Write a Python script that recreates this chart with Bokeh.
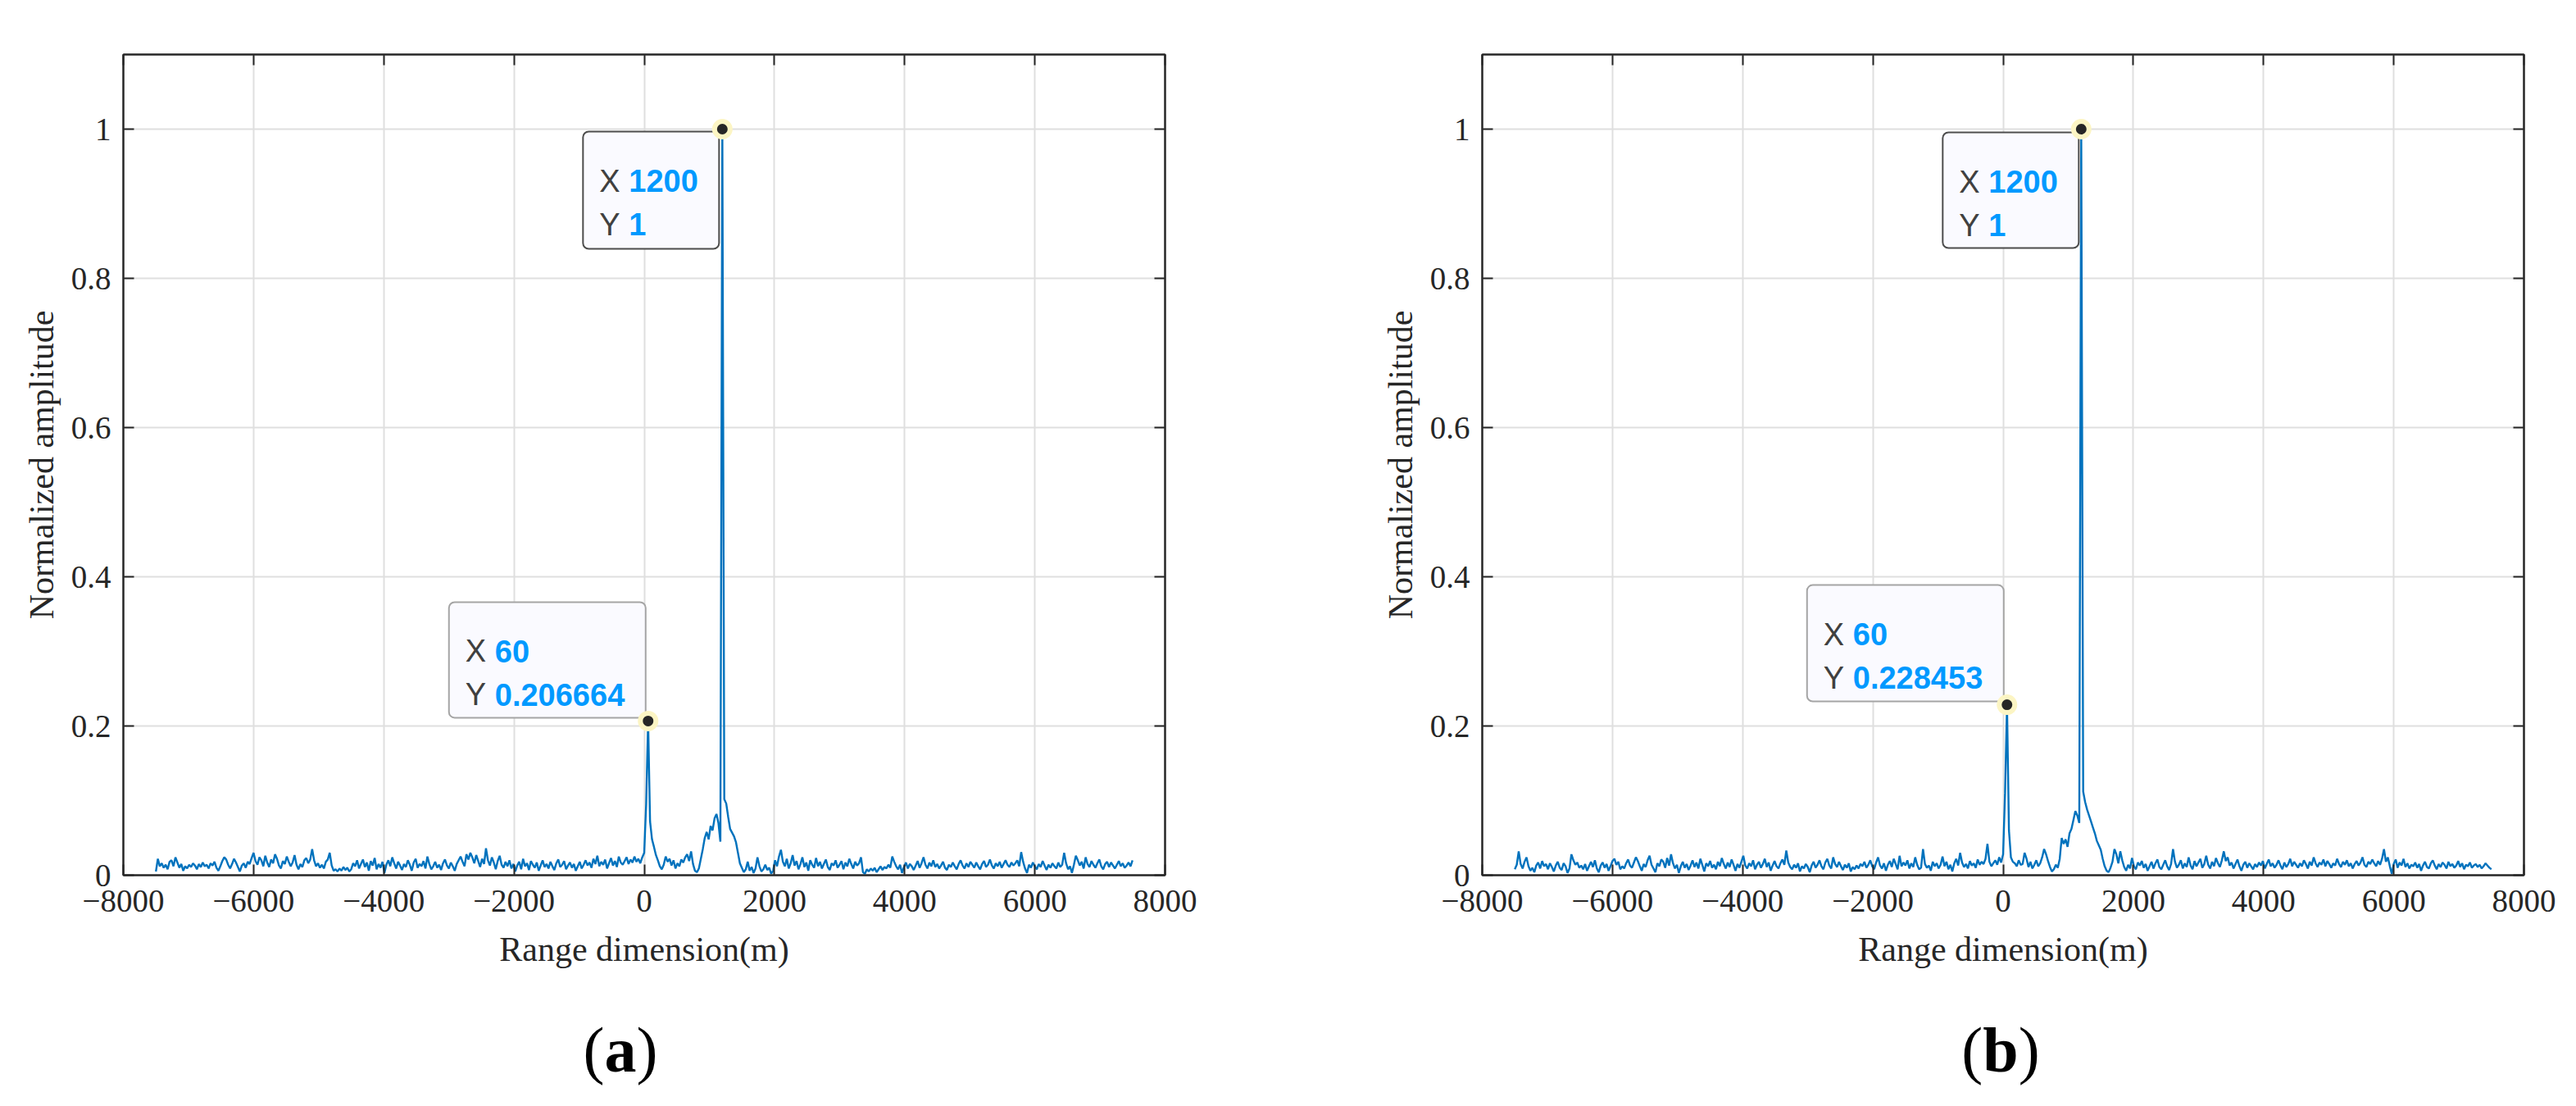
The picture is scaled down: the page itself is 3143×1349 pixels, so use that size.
import numpy as np
from bokeh.plotting import figure
from bokeh.models import Range1d, FixedTicker, LinearAxis, BoxAnnotation, Label, Div
from bokeh.layouts import row, column
from bokeh.embed import file_html
from bokeh.resources import INLINE

# ---------------- data ----------------
# range samples: start and spacing (m)
X_START = -7500
X_STEP = 30

# normalized amplitude, in thousandths, panel (a)
amp_a_milli = [
    5, 22, 12, 16, 10, 14, 8, 18, 20, 12, 24, 17, 10, 15, 6, 12, 9, 14, 11, 16,
    13, 8, 15, 11, 17, 12, 14, 9, 16, 13, 18, 10, 6, 12, 19, 24, 21, 14, 9, 15,
    22, 17, 11, 5, 13, 16, 10, 18, 15, 23, 30, 19, 14, 24, 20, 12, 26, 17, 11, 21,
    16, 28, 22, 13, 9, 19, 15, 25, 18, 12, 17, 27, 14, 8, 15, 11, 20, 23, 16, 21,
    35, 20, 12, 16, 10, 14, 9, 18, 21, 30, 13, 6, 8, 5, 9, 6, 11, 7, 10, 5,
    8, 16, 12, 20, 9, 15, 21, 11, 17, 6, 19, 13, 23, 8, 15, 10, 18, 3, 14, 20,
    12, 24, 16, 9, 18, 13, 7, 15, 11, 20, 14, 6, 17, 22, 10, 15, 12, 19, 9, 25,
    15, 8, 12, 18, 10, 14, 7, 16, 21, 13, 9, 17, 12, 6, 15, 20, 25, 18, 12, 28,
    21, 30, 24, 16, 27, 19, 11, 22, 15, 36, 20, 13, 24, 17, 8, 19, 26, 14, 10, 18,
    12, 20, 9, 15, 5, 13, 18, 8, 22, 12, 16, 7, 19, 14, 10, 17, 6, 13, 20, 11,
    15, 9, 18, 12, 7, 16, 21, 11, 14, 19, 8, 13, 17, 10, 15, 6, 12, 18, 9, 14,
    20, 13, 17, 10, 22, 15, 26, 12, 18, 14, 21, 9, 16, 23, 13, 19, 11, 25, 17, 14,
    19, 24, 15, 21, 17, 25, 18, 22, 16, 24, 30, 95, 206.664, 72, 48, 38, 27, 20, 12, 8,
    14, 25, 18, 22, 13, 20, 9, 16, 12, 21, 17, 24, 28, 19, 32, 15, 6, 4, 9, 22,
    35, 50, 58, 48, 66, 60, 76, 82, 70, 45, 1000, 102, 96, 78, 62, 57, 52, 44, 30, 16,
    10, 4, 8, 18, 6, 11, 3, 9, 24, 12, 5, 8, 14, 7, 10, 2, 6, 20, 12, 25,
    34, 18, 12, 22, 9, 16, 27, 13, 19, 8, 15, 24, 11, 17, 6, 20, 14, 10, 23, 12,
    18, 9, 15, 21, 11, 7, 16, 13, 20, 10, 14, 19, 8, 17, 12, 22, 15, 9, 18, 13,
    16, 24, 4, 2, 8, 5, 9, 6, 10, 4, 8, 12, 7, 11, 9, 14, 10, 25, 18, 12,
    8, 14, 3, 11, 17, 9, 15, 12, 7, 13, 19, 10, 16, 24, 14, 9, 17, 12, 20, 11,
    15, 9, 13, 18, 10, 7, 14, 11, 17, 12, 8, 15, 20, 13, 9, 16, 11, 18, 14, 10,
    17, 12, 8, 15, 19, 11, 14, 21, 13, 9, 16, 12, 18, 10, 15, 20, 14, 11, 17, 13,
    16, 20, 12, 31, 18, 9, 3, 14, 10, 17, 12, 8, 15, 11, 19, 13, 7, 14, 10, 16,
    12, 9, 17, 11, 14, 30, 16, 8, 12, 3, 14, 26, 20, 13, 18, 9, 24, 15, 11, 19,
    14, 10, 16, 21, 12, 8, 15, 18, 11, 17, 13, 9, 14, 19, 12, 16, 10, 13, 17, 12,
    20,
]

# normalized amplitude, in thousandths, panel (b)
amp_b_milli = [
    8, 14, 32, 15, 9, 18, 24, 12, 6, 10, 4, 13, 17, 9, 19, 12, 15, 8, 16, 11,
    5, 13, 18, 10, 7, 16, 12, 3, 9, 28, 20, 14, 17, 10, 13, 8, 15, 6, 12, 18,
    11, 20, 9, 4, 13, 17, 10, 15, 6, 12, 19, 22, 14, 18, 8, 12, 9, 16, 21, 13,
    10, 17, 24, 19, 12, 6, 15, 11, 20, 26, 14, 9, 4, 16, 12, 21, 18, 10, 23, 13,
    28, 16, 9, 14, 3, 12, 18, 10, 15, 7, 13, 20, 11, 17, 9, 22, 14, 5, 16, 12,
    19, 10, 14, 8, 18, 12, 23, 15, 9, 17, 11, 21, 14, 6, 15, 10, 18, 26, 13, 9,
    16, 12, 20, 8, 14, 18, 10, 15, 22, 11, 17, 6, 13, 19, 12, 9, 16, 21, 14, 33,
    17, 11, 8, 14, 10, 16, 5, 12, 9, 15, 11, 4, 13, 18, 10, 14, 20, 12, 8, 17,
    22, 13, 9, 24, 15, 11, 18, 12, 7, 14, 10, 16, 5, 11, 8, 13, 9, 15, 12, 18,
    10, 14, 20, 12, 8, 17, 24, 13, 9, 16, 6, 14, 19, 11, 22, 15, 8, 26, 12, 17,
    13, 20, 9, 16, 11, 24, 14, 8, 10, 35, 15, 10, 13, 6, 18, 12, 16, 9, 14, 25,
    12, 18, 8, 14, 5, 16, 22, 13, 30, 17, 11, 15, 9, 19, 13, 16, 10, 21, 14, 18,
    15, 22, 42, 18, 12, 16, 20, 14, 24, 17, 28, 110, 228.453, 60, 24, 18, 16, 12, 20, 14,
    15, 30, 22, 11, 18, 9, 14, 20, 12, 16, 24, 35, 28, 19, 11, 5, 8, 14, 10, 22,
    50, 42, 48, 38, 56, 62, 74, 86, 80, 70, 1000, 112, 98, 88, 80, 72, 64, 56, 46, 40,
    34, 22, 12, 6, 4, 10, 18, 35, 28, 16, 32, 20, 11, 6, 14, 9, 23, 12, 8, 17,
    13, 19, 10, 15, 6, 12, 18, 9, 16, 21, 11, 8, 14, 20, 12, 7, 15, 35, 18, 10,
    14, 20, 9, 16, 11, 24, 13, 8, 19, 12, 17, 22, 10, 15, 26, 14, 9, 18, 12, 23,
    16, 11, 20, 32, 19, 24, 13, 17, 9, 15, 21, 12, 6, 14, 18, 10, 16, 12, 8, 15,
    11, 17, 13, 19, 9, 15, 21, 12, 16, 10, 14, 20, 13, 8, 17, 11, 15, 22, 12, 18,
    14, 10, 16, 12, 20, 15, 9, 18, 13, 24, 16, 11, 17, 14, 21, 12, 19, 15, 10, 16,
    13, 22, 15, 11, 18, 14, 20, 12, 16, 9, 15, 19, 13, 17, 24, 14, 11, 18, 15, 21,
    16, 12, 19, 14, 22, 35, 18, 24, 12, 2, 15, 21, 10, 17, 13, 22, 11, 16, 9, 14,
    12, 17, 10, 15, 6, 13, 18, 11, 9, 16, 20, 13, 8, 15, 11, 17, 14, 9, 18, 12,
    15, 10, 13, 19, 11, 16, 8, 14, 12, 17, 10, 13, 15, 11, 14, 9, 12, 16, 13, 10,
    8,
]

x_ticks = [-8000, -6000, -4000, -2000, 0, 2000, 4000, 6000, 8000]
x_tick_labels = ["\u22128000", "\u22126000", "\u22124000", "\u22122000", "0",
                 "2000", "4000", "6000", "8000"]
y_ticks = [0, 0.2, 0.4, 0.6, 0.8, 1]
y_tick_labels = ["0", "0.2", "0.4", "0.6", "0.8", "1"]

x_label = "Range dimension(m)"
y_label = "Normalized amplitude"

# data tips: x, y, shown x text, shown y text
tips_a = [(60, 0.206664, "60", "0.206664"), (1200, 1.0, "1200", "1")]
tips_b = [(60, 0.228453, "60", "0.228453"), (1200, 1.0, "1200", "1")]

# ---------------- styling / layout ----------------
FRAME_W, FRAME_H = 1271, 1001
X_MIN, X_MAX = -8000, 8000
Y_MIN, Y_MAX = 0, 1.1
KX = (X_MAX - X_MIN) / FRAME_W   # data units per screen px
KY = (Y_MAX - Y_MIN) / FRAME_H

AX_COLOR = "#262626"
GRID_COLOR = "#DFDFDF"
LINE_COLOR = "#0072BD"
SERIF = "Liberation Serif"
SANS = "Liberation Sans"

# box offsets relative to the tip point, in px: left, right, top, bottom (screen-down positive)
box_offsets_a = [(-243, -3, -145, -4), (-170, -4, 3, 146)]
box_offsets_b = [(-244, -4, -146, -4), (-169, -3, 4, 145)]
box_edge_colors = ["#A5A5A5", "#4D4D4D"]


def style_axis(ax, label_size="39px"):
    ax.axis_line_color = AX_COLOR
    ax.axis_line_width = 2
    ax.major_tick_in = 13
    ax.major_tick_out = 0
    ax.major_tick_line_color = AX_COLOR
    ax.major_tick_line_width = 2
    ax.minor_tick_line_color = None
    ax.major_label_text_font = SERIF
    ax.major_label_text_font_size = label_size
    ax.major_label_text_color = AX_COLOR
    ax.axis_label_text_font = SERIF
    ax.axis_label_text_font_size = "42px"
    ax.axis_label_text_font_style = "normal"
    ax.axis_label_text_color = AX_COLOR


def make_panel(amp_milli, tips, offsets, border_left, border_right):
    amp = np.array(amp_milli, dtype=float) / 1000.0
    x = X_START + X_STEP * np.arange(len(amp))

    p = figure(frame_width=FRAME_W, frame_height=FRAME_H,
               x_range=Range1d(X_MIN, X_MAX), y_range=Range1d(Y_MIN, Y_MAX),
               output_backend="svg", toolbar_location=None,
               min_border_left=border_left, min_border_right=border_right,
               min_border_top=66, min_border_bottom=125)
    p.background_fill_color = "white"
    p.border_fill_color = "white"
    p.outline_line_color = AX_COLOR
    p.outline_line_width = 2

    xt = FixedTicker(ticks=x_ticks)
    yt = FixedTicker(ticks=y_ticks)
    p.xaxis.ticker = xt
    p.yaxis.ticker = yt
    p.xaxis.major_label_overrides = {t: s for t, s in zip(x_ticks, x_tick_labels)}
    p.yaxis.major_label_overrides = {t: s for t, s in zip(y_ticks, y_tick_labels)}
    p.xaxis.axis_label = x_label
    p.yaxis.axis_label = y_label
    style_axis(p.xaxis[0])
    style_axis(p.yaxis[0])
    p.xaxis.major_label_standoff = 18
    p.xaxis.axis_label_standoff = 20
    p.yaxis.major_label_standoff = 15
    p.yaxis.axis_label_standoff = 10

    # mirrored tick marks on top and right (box on)
    top_ax = LinearAxis(ticker=FixedTicker(ticks=x_ticks),
                        major_label_overrides={t: "" for t in x_ticks})
    right_ax = LinearAxis(ticker=FixedTicker(ticks=y_ticks),
                          major_label_overrides={t: "" for t in y_ticks})
    for ax in (top_ax, right_ax):
        style_axis(ax, label_size="0px")
        ax.major_label_standoff = 0
    p.add_layout(top_ax, "above")
    p.add_layout(right_ax, "right")

    p.xgrid.ticker = xt
    p.ygrid.ticker = yt
    for g in (p.xgrid, p.ygrid):
        g.grid_line_color = GRID_COLOR
        g.grid_line_width = 2

    p.line(x, amp, line_color=LINE_COLOR, line_width=2.4)

    # data tips
    for (tx, ty, sx, sy), (l, r, t, b), edge in zip(tips, offsets, box_edge_colors):
        left, right = tx + l * KX, tx + r * KX
        top, bottom = ty - t * KY, ty - b * KY
        p.add_layout(BoxAnnotation(left=left, right=right, top=top, bottom=bottom,
                                   fill_color="#FAFAFF", fill_alpha=1.0,
                                   line_color=edge, line_alpha=1.0, line_width=2,
                                   border_radius=7))
        for k, (name, val) in enumerate((("X", sx), ("Y", sy))):
            base_y = ty - (t + 60 + 53 * k) * KY
            p.add_layout(Label(x=left + 20 * KX, y=base_y, text=name,
                               text_font=SANS, text_font_size="38px",
                               text_color="#404040", text_align="left",
                               text_baseline="alphabetic"))
            p.add_layout(Label(x=left + 56 * KX, y=base_y, text=val,
                               text_font=SANS, text_font_size="38px",
                               text_font_style="bold",
                               text_color="#0099FF", text_align="left",
                               text_baseline="alphabetic"))

    txs = [tp[0] for tp in tips]
    tys = [tp[1] for tp in tips]
    halo = p.scatter(txs, tys, size=25, fill_color="#FCF5C4", line_color=None)
    dot = p.scatter(txs, tys, size=13, fill_color="#262626", line_color=None)
    halo.level = "overlay"
    dot.level = "overlay"
    return p


pa = make_panel(amp_a_milli, tips_a, box_offsets_a, 150, 100)
pb = make_panel(amp_b_milli, tips_b, box_offsets_b, 287, 40)

cap_style = {"font-family": "'Liberation Serif', serif", "font-size": "78px",
             "line-height": "1", "text-align": "center", "color": "#000000"}
da = Div(text="(<b>a</b>)", width=600, height=90, margin=(50, 0, 0, 457),
         styles=cap_style)
db = Div(text="(<b>b</b>)", width=600, height=90, margin=(50, 0, 0, 620),
         styles=cap_style)

layout = row(column(pa, da), column(pb, db))

with open("out.html", "w") as f:
    f.write(file_html(layout, INLINE))
